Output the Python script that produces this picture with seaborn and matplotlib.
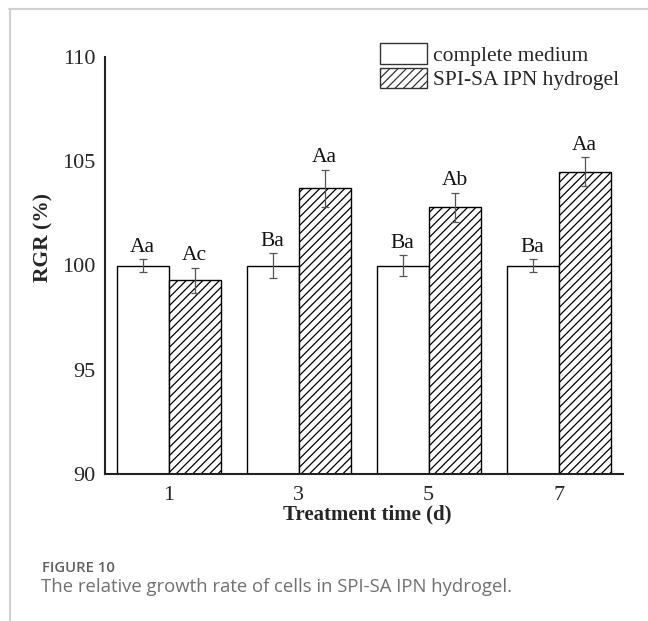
import numpy as np
import pandas as pd
import matplotlib
matplotlib.use("Agg")
import matplotlib.pyplot as plt
import seaborn as sns
from matplotlib.patches import Patch
from matplotlib.lines import Line2D

# ---- data ----
days = ["1", "3", "5", "7"]
groups = ["complete medium", "SPI-SA IPN hydrogel"]
medium_mean = [100.0, 100.0, 100.0, 100.0]
medium_err = [0.3, 0.6, 0.5, 0.3]
hydrogel_mean = [99.3, 103.7, 102.8, 104.5]
hydrogel_err = [0.6, 0.9, 0.7, 0.7]
medium_letters = ["Aa", "Ba", "Ba", "Ba"]
hydrogel_letters = ["Ac", "Aa", "Ab", "Aa"]
yticks = [90, 95, 100, 105, 110]

sns.set_style("white")
plt.rcParams["font.family"] = ["Liberation Serif", "DejaVu Serif"]
plt.rcParams["hatch.linewidth"] = 0.9

df = pd.DataFrame({
    "day": days * 2,
    "group": [groups[0]] * len(days) + [groups[1]] * len(days),
    "rgr": medium_mean + hydrogel_mean,
    "err": medium_err + hydrogel_err,
    "letter": medium_letters + hydrogel_letters,
})

W, H = 648, 621
fig = plt.figure(figsize=(W / 100, H / 100), dpi=100)
ax = fig.add_axes([105 / W, 1 - 474 / H, 518 / W, 417 / H])

sns.barplot(data=df, x="day", y="rgr", hue="group", order=days, hue_order=groups,
            palette=["white", "white"], saturation=1, edgecolor="black",
            linewidth=1.0, errorbar=None, width=0.8, legend=False, ax=ax)

patches = list(ax.patches)
n = len(days)
for i, p in enumerate(patches):
    if i >= n:
        p.set_hatch("////")
    row = df.iloc[i]
    xc = p.get_x() + p.get_width() / 2
    top = p.get_height()
    ax.errorbar(xc, top, yerr=row["err"], color="#555555", lw=0.9,
                capsize=3, capthick=0.9, zorder=5)
    ax.annotate(row["letter"], (xc, top + row["err"]), xytext=(0, 8.5),
                textcoords="offset points", ha="center", va="center",
                fontsize=15.5, color="#111111")

ax.set_ylim(yticks[0], yticks[-1])
ax.set_yticks(yticks)
ax.set_xlim(-0.49, 3.495)

for s in ["top", "right"]:
    ax.spines[s].set_visible(False)
for s in ["left", "bottom"]:
    ax.spines[s].set_linewidth(1.5)
    ax.spines[s].set_color("#222222")

ax.tick_params(axis="y", direction="in", length=5, width=1.5, pad=7,
               labelsize=16, color="#222222")
ax.tick_params(axis="x", length=0, pad=8.5, labelsize=16)

ax.set_ylabel("RGR (%)", fontsize=15.5, fontweight="bold")
ax.yaxis.set_label_coords(-0.100, 0.566)
ax.set_xlabel("Treatment time (d)", fontsize=15, fontweight="bold")
ax.xaxis.set_label_coords(0.506, -0.072)

handles = [Patch(facecolor="white", edgecolor="#333333", lw=1.0),
           Patch(facecolor="white", edgecolor="#333333", lw=1.0, hatch="////")]
fig.legend(handles, groups, loc="upper left", bbox_to_anchor=(380 / W, 1 - 43 / H),
           frameon=False, fontsize=15.5, borderpad=0, borderaxespad=0,
           handlelength=2.2, handleheight=1.1, labelspacing=0.1,
           handletextpad=0.27)

# page frame and caption
fig.add_artist(Line2D([9 / W, 1], [1 - 9 / H, 1 - 9 / H], color="#d0d0d0",
                      lw=1.5, transform=fig.transFigure))
fig.add_artist(Line2D([9.5 / W, 9.5 / W], [0, 1 - 9 / H], color="#d0d0d0",
                      lw=1.5, transform=fig.transFigure))
fig.text(42 / W, 1 - 568 / H, "FIGURE 10", va="center", ha="left",
         family=["Open Sans", "DejaVu Sans"], fontweight="semibold",
         fontsize=10.7, color="#5f5f5f")
fig.text(41 / W, 1 - 587 / H,
         "The relative growth rate of cells in SPI-SA IPN hydrogel.",
         va="center", ha="left", family=["Open Sans", "DejaVu Sans"],
         fontsize=13.3, color="#707070")

fig.savefig("out.png", dpi=100)
